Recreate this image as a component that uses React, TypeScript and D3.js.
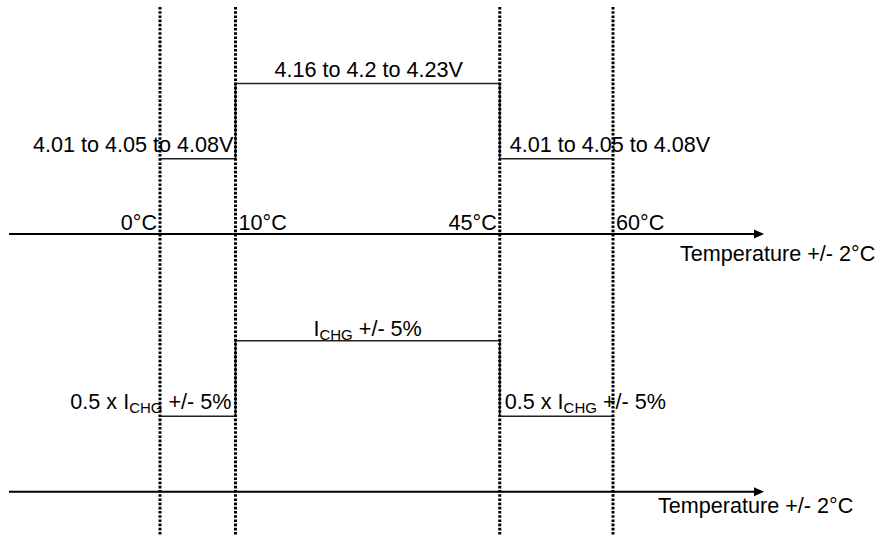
import { useEffect, useRef } from "react";
import * as d3 from "d3";

// temperature breakpoints (°C) and their labels
const temps = [0, 10, 45, 60];
const tempLabels = ["0°C", "10°C", "45°C", "60°C"];

// step levels (0 = axis, 1 = reduced, 2 = full) at each breakpoint, curveStepAfter
const voltageSteps = [
  { t: 0, level: 1 },
  { t: 10, level: 2 },
  { t: 45, level: 1 },
  { t: 60, level: 1 },
];
const currentSteps = [
  { t: 0, level: 1 },
  { t: 10, level: 2 },
  { t: 45, level: 1 },
  { t: 60, level: 1 },
];

const voltageLabels = ["4.01 to 4.05 to 4.08V", "4.16 to 4.2 to 4.23V", "4.01 to 4.05 to 4.08V"];
const axisTitle = "Temperature +/- 2°C";

export default function App() {
  const svgRef = useRef<SVGSVGElement>(null);

  useEffect(() => {
    document.body.style.margin = "0";
    if (!svgRef.current) return;
    const svg = d3.select(svgRef.current);
    svg.selectAll("*").remove();

    const width = 877;
    const height = 535;
    const font = "'Liberation Sans', Arial, sans-serif";
    const fs = 21.6;

    const x = d3.scaleLinear().domain([0, 60]).range([160, 613]);
    const axisStart = 9;
    const axisEnd = 764;

    const panels = [
      { y: d3.scaleLinear().domain([0, 2]).range([234, 83.5]), steps: voltageSteps, kind: "v" },
      { y: d3.scaleLinear().domain([0, 2]).range([491.7, 340.7]), steps: currentSteps, kind: "i" },
    ];

    const g = svg.append("g");

    panels.forEach((p, pi) => {
      const y0 = p.y(0);
      // axis line + arrow
      g.append("line")
        .attr("x1", axisStart)
        .attr("x2", axisEnd - 8)
        .attr("y1", y0)
        .attr("y2", y0)
        .attr("stroke", "#000")
        .attr("stroke-width", 2);
      g.append("path")
        .attr("d", `M${axisEnd},${y0}L${axisEnd - 10},${y0 - 4.5}L${axisEnd - 10},${y0 + 4.5}Z`)
        .attr("fill", "#000");

      // step line
      const line = d3
        .line<{ t: number; level: number }>()
        .x((d) => x(d.t))
        .y((d) => p.y(d.level))
        .curve(d3.curveStepAfter);
      g.append("path")
        .datum(p.steps)
        .attr("fill", "none")
        .attr("stroke", "#222")
        .attr("stroke-width", 1.6)
        .attr("d", line);

      // axis title
      g.append("text")
        .attr("x", pi === 0 ? 680 : 658)
        .attr("y", y0 + (pi === 0 ? 27 : 21))
        .attr("font-family", font)
        .attr("font-size", fs)
        .attr("fill", "#000")
        .text(axisTitle);

      const lvl1 = p.y(1) - 7;
      const lvl2 = p.y(2) - 7;
      if (p.kind === "v") {
        // temperature labels
        temps.forEach((t, i) => {
          const left = i % 2 === 0;
          g.append("text")
            .attr("x", left ? x(t) - 3 : x(t) + 3)
            .attr("y", y0 - 4)
            .attr("text-anchor", left ? "end" : "start")
            .attr("font-family", font)
            .attr("font-size", fs)
            .attr("fill", "#000")
            .text(tempLabels[i]);
        });
        g.append("text")
          .attr("x", x(10) - 2)
          .attr("y", lvl1)
          .attr("text-anchor", "end")
          .attr("font-family", font)
          .attr("font-size", fs)
          .text(voltageLabels[0]);
        g.append("text")
          .attr("x", (x(10) + x(45)) / 2 + 1)
          .attr("y", lvl2)
          .attr("text-anchor", "middle")
          .attr("font-family", font)
          .attr("font-size", fs)
          .text(voltageLabels[1]);
        g.append("text")
          .attr("x", x(45) + 10)
          .attr("y", lvl1)
          .attr("text-anchor", "start")
          .attr("font-family", font)
          .attr("font-size", fs)
          .text(voltageLabels[2]);
      } else {
        const current = (tx: number, ty: number, anchor: string, prefix: string) => {
          const t = g
            .append("text")
            .attr("x", tx)
            .attr("y", ty)
            .attr("text-anchor", anchor)
            .attr("font-family", font)
            .attr("font-size", fs)
            .attr("fill", "#000");
          t.append("tspan").text(prefix + "I");
          t.append("tspan").attr("dy", 4).attr("font-size", 15).text("CHG");
          t.append("tspan").attr("dy", -4).text(" +/- 5%");
        };
        current(x(10) - 4, lvl1, "end", "0.5 x ");
        current((x(10) + x(45)) / 2, lvl2 + 2, "middle", "");
        current(x(45) + 5, lvl1, "start", "0.5 x ");
      }
    });

    // dotted vertical boundaries
    g.append("g")
      .selectAll("line")
      .data(temps)
      .join("line")
      .attr("x1", (d) => x(d))
      .attr("x2", (d) => x(d))
      .attr("y1", 7)
      .attr("y2", height)
      .attr("stroke", "#000")
      .attr("stroke-width", 3)
      .attr("stroke-dasharray", "2.6,1.6");

    svg.attr("width", width).attr("height", height);
  }, []);

  return (
    <svg
      ref={svgRef}
      width={877}
      height={535}
      style={{ display: "block", background: "#fff" }}
    />
  );
}
